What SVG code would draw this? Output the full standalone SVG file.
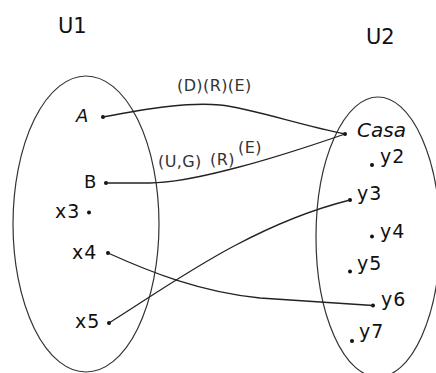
<svg xmlns="http://www.w3.org/2000/svg" width="436" height="373" viewBox="0 0 436 373">
<style>
.set{fill:none;stroke:#333;stroke-width:1.2}
.c{fill:none;stroke:#222;stroke-width:1.3}
.t{font-family:"DejaVu Sans",sans-serif;fill:#111}
.v{font-size:19px;letter-spacing:1px}
.lab{font-family:"DejaVu Sans",sans-serif;fill:#333;font-size:16px;letter-spacing:0.4px}
.d{fill:#111}
</style>
<rect width="436" height="373" fill="#fff"/>
<g id="U1">
<ellipse class="set" cx="86" cy="224" rx="73" ry="148"/>
<text class="t" x="58" y="33" font-size="21">U1</text>
</g>
<g id="U2">
<ellipse class="set" cx="378" cy="237" rx="62" ry="140"/>
<text class="t" x="366" y="44" font-size="21">U2</text>
</g>
<g id="A"><text class="t" x="76" y="122" font-size="18" font-style="italic">A</text><circle class="d" cx="103" cy="117" r="2"/></g>
<g id="B"><text class="t" x="84" y="188" font-size="18">B</text><circle class="d" cx="106" cy="183" r="2"/></g>
<g id="x3"><text class="t v" x="55" y="218">x3</text><circle class="d" cx="89" cy="212.5" r="2"/></g>
<g id="x4"><text class="t v" x="72" y="259">x4</text><circle class="d" cx="108" cy="253" r="2"/></g>
<g id="x5"><text class="t v" x="75" y="328">x5</text><circle class="d" cx="109" cy="323" r="2"/></g>
<g id="Casa"><text class="t" x="357" y="137" font-size="20" font-style="italic">Casa</text><circle class="d" cx="345" cy="134" r="2"/></g>
<g id="y2"><text class="t v" x="380" y="163">y2</text><circle class="d" cx="372" cy="165" r="2"/></g>
<g id="y3"><text class="t v" x="357" y="200">y3</text><circle class="d" cx="350" cy="200" r="2"/></g>
<g id="y4"><text class="t v" x="380" y="238">y4</text><circle class="d" cx="372" cy="236.5" r="2"/></g>
<g id="y5"><text class="t v" x="357" y="270">y5</text><circle class="d" cx="350" cy="271.5" r="2"/></g>
<g id="y6"><text class="t v" x="381" y="306">y6</text><circle class="d" cx="373" cy="305.5" r="2"/></g>
<g id="y7"><text class="t v" x="359" y="338">y7</text><circle class="d" cx="352" cy="341" r="2"/></g>
<g id="connectors">
<path class="c" d="M103,117 C150,108 190,102 220,105 S300,125 345,134"/>
<path class="c" d="M106,183 L150,183 C190,183 270,160 345,134"/>
<path class="c" d="M109,323 C170,285 250,225 350,200"/>
<path class="c" d="M108,253 C150,272 200,292 260,298 L373,305.5"/>
<text class="lab" x="177" y="91">(D)(R)(E)</text>
<text class="lab" x="158" y="167">(U,G)</text>
<text class="lab" x="210" y="165">(R)</text>
<text class="lab" x="238" y="153">(E)</text>
</g>
</svg>
